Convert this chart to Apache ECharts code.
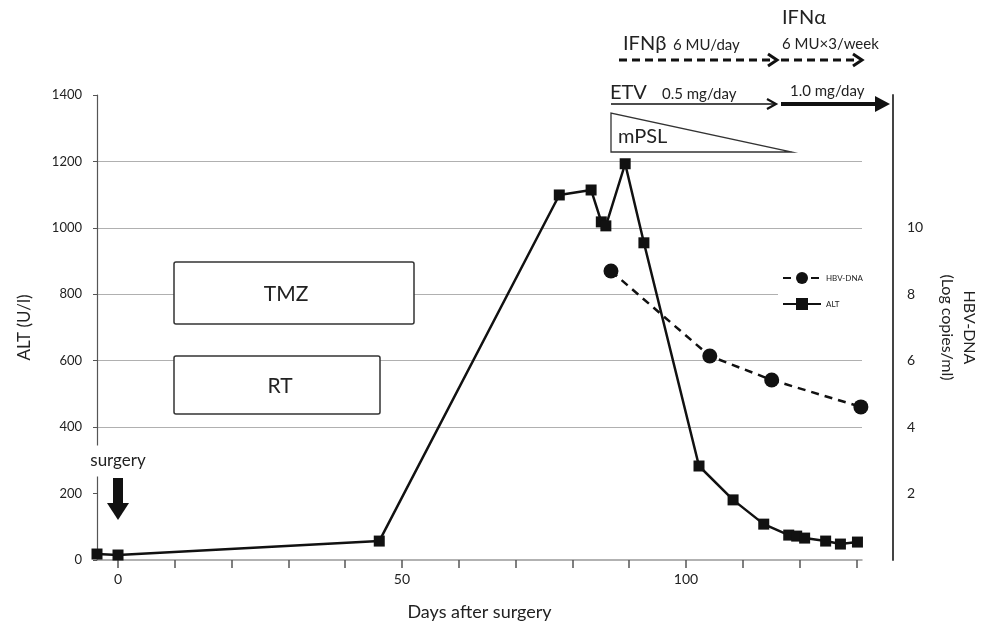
<!DOCTYPE html>
<html>
<head>
<meta charset="utf-8">
<script src="https://cdn.jsdelivr.net/npm/echarts@6/dist/echarts.min.js"></script>
<style>
html,body{margin:0;padding:0;background:#fff;}
#c{width:987px;height:624px;}
</style>
</head>
<body>
<div id="c"></div>
<script>
// ---- data ----
const altDays   = [-3.7, 0, 46.0, 77.7, 83.3, 85.1, 85.9, 89.3, 92.6, 102.3, 108.3, 113.7, 118.1, 119.5, 120.9, 124.6, 127.2, 130.2];
const altValues = [18, 15, 57, 1099, 1114, 1018, 1006, 1193, 955, 283, 181, 108, 75, 72, 66, 57, 48, 54];
const hbvDays   = [86.8, 104.2, 115.1, 130.8];
const hbvValues = [8.70, 6.14, 5.42, 4.61];
const xTicks    = [0, 10, 20, 30, 40, 50, 60, 70, 80, 90, 100, 110, 120, 130];
const xLabels   = [0, 50, 100];
const rightLabels = [2, 4, 6, 8, 10];

const FONT = 'Lato, "Open Sans", sans-serif';
const TXT = '#222';

const chart = echarts.init(document.getElementById('c'), null, {renderer: 'canvas'});

function arrowHeadOpen(x, y, w, h, lw) {
  return {type: 'polyline', z: 20, shape: {points: [[x - w, y - h], [x, y], [x - w, y + h]]},
          style: {stroke: '#111', lineWidth: lw, fill: null}};
}

const graphics = [
  // TMZ box
  {type: 'rect', z: 5, shape: {x: 174, y: 262, width: 240, height: 62, r: 2},
   style: {fill: '#fff', stroke: '#333', lineWidth: 1.5}},
  {type: 'text', z: 6, style: {x: 286, y: 294, text: 'TMZ', align: 'center', verticalAlign: 'middle',
   font: '21px ' + FONT, fill: TXT}},
  // RT box
  {type: 'rect', z: 5, shape: {x: 174, y: 356, width: 206, height: 58, r: 2},
   style: {fill: '#fff', stroke: '#333', lineWidth: 1.5}},
  {type: 'text', z: 6, style: {x: 280, y: 386, text: 'RT', align: 'center', verticalAlign: 'middle',
   font: '21px ' + FONT, fill: TXT}},
  // surgery label and arrow
  {type: 'text', z: 10, style: {x: 118, y: 461, text: 'surgery', align: 'center', verticalAlign: 'middle',
   font: '17px ' + FONT, fill: TXT, backgroundColor: '#fff', padding: [8, 2, 6, 2]}},
  {type: 'rect', z: 10, shape: {x: 113, y: 478, width: 10, height: 26}, style: {fill: '#111'}},
  {type: 'polygon', z: 10, shape: {points: [[107, 503], [129, 503], [118, 520]]}, style: {fill: '#111'}},
  // mPSL triangle
  {type: 'polygon', z: 5, shape: {points: [[611, 113], [611, 152], [792, 152]]},
   style: {fill: '#fff', stroke: '#333', lineWidth: 1.3}},
  {type: 'text', z: 6, style: {x: 618, y: 137, text: 'mPSL', align: 'left', verticalAlign: 'middle',
   font: '20px ' + FONT, fill: TXT}},
  // ETV
  {type: 'text', z: 6, style: {x: 610, y: 93, text: 'ETV', align: 'left', verticalAlign: 'middle',
   font: '20px ' + FONT, fill: TXT}},
  {type: 'text', z: 6, style: {x: 662, y: 94, text: '0.5 mg/day', align: 'left', verticalAlign: 'middle',
   font: '15px ' + FONT, fill: TXT}},
  {type: 'line', z: 20, shape: {x1: 611, y1: 104, x2: 775, y2: 104}, style: {stroke: '#111', lineWidth: 1.5}},
  arrowHeadOpen(776, 104, 9, 5, 2.2),
  {type: 'text', z: 6, style: {x: 790, y: 91, text: '1.0 mg/day', align: 'left', verticalAlign: 'middle',
   font: '15px ' + FONT, fill: TXT}},
  {type: 'line', z: 20, shape: {x1: 781, y1: 104, x2: 878, y2: 104}, style: {stroke: '#111', lineWidth: 4}},
  {type: 'polygon', z: 20, shape: {points: [[875, 96], [890, 104], [875, 112]]}, style: {fill: '#111'}},
  // IFN beta / alpha
  {type: 'text', z: 6, style: {x: 623, y: 44, text: 'IFNβ', align: 'left', verticalAlign: 'middle',
   font: '20px ' + FONT, fill: TXT}},
  {type: 'text', z: 6, style: {x: 673, y: 45, text: '6 MU/day', align: 'left', verticalAlign: 'middle',
   font: '15px ' + FONT, fill: TXT}},
  {type: 'line', z: 20, shape: {x1: 619, y1: 60, x2: 774, y2: 60},
   style: {stroke: '#111', lineWidth: 3, lineDash: [8, 5]}},
  arrowHeadOpen(777, 60, 9, 6, 3),
  {type: 'line', z: 20, shape: {x1: 781, y1: 60, x2: 858, y2: 60},
   style: {stroke: '#111', lineWidth: 3, lineDash: [8, 5]}},
  arrowHeadOpen(862, 60, 9, 6, 3),
  {type: 'text', z: 6, style: {x: 782, y: 18, text: 'IFNα', align: 'left', verticalAlign: 'middle',
   font: '20px ' + FONT, fill: TXT}},
  {type: 'text', z: 6, style: {x: 782, y: 44, text: '6 MU×3/week', align: 'left', verticalAlign: 'middle',
   font: '15px ' + FONT, fill: TXT}}
];

const gray = '#b0b0b0';

chart.setOption({
  animation: false,
  backgroundColor: '#fff',
  textStyle: {fontFamily: FONT},
  grid: {left: 97, right: 125, top: 95, bottom: 64, containLabel: false, outerBoundsMode: 'none'},
  legend: {
    data: ['HBV-DNA', 'ALT'], orient: 'vertical', left: 778, top: 269,
    itemGap: 14, itemWidth: 38, itemHeight: 15, backgroundColor: '#fff', padding: [3, 4],
    textStyle: {fontSize: 8, color: TXT, fontFamily: FONT}, z: 8
  },
  xAxis: {
    type: 'value', min: -3.7, max: 131,
    name: 'Days after surgery', nameLocation: 'middle', nameGap: 43,
    nameTextStyle: {fontSize: 18, color: TXT, fontFamily: FONT},
    axisLine: {show: true, onZero: false, lineStyle: {color: '#999', width: 1.5}},
    axisTick: {show: true, customValues: xTicks, length: 8, lineStyle: {color: '#555', width: 1.5}},
    axisLabel: {customValues: xLabels, fontSize: 14, color: TXT, margin: 12, fontFamily: FONT},
    splitLine: {show: false}
  },
  yAxis: [
    {
      type: 'value', min: 0, max: 1400, interval: 200, position: 'left',
      name: 'ALT (U/l)', nameLocation: 'middle', nameGap: 64, nameRotate: 90,
      nameTextStyle: {fontSize: 17, color: TXT, fontFamily: FONT},
      axisLine: {show: true, onZero: false, lineStyle: {color: '#555', width: 1.2}},
      axisTick: {show: true, length: 4, lineStyle: {color: '#555'}},
      axisLabel: {fontSize: 13, color: TXT, margin: 15, fontFamily: FONT, formatter: v => String(v)},
      splitLine: {show: true, showMinLine: false, showMaxLine: false,
        lineStyle: {color: ['transparent', gray, gray, gray, gray, gray, gray, 'transparent'], width: 1.2}}
    },
    {
      type: 'value', min: 0, max: 14, interval: 2, position: 'right', offset: 31,
      name: 'HBV-DNA\n(Log copies/ml)', nameLocation: 'middle', nameGap: 43, nameRotate: -90,
      nameTextStyle: {fontSize: 16, color: TXT, fontFamily: FONT, lineHeight: 22, align: 'center'},
      axisLine: {show: true, onZero: false, lineStyle: {color: '#444', width: 2}},
      axisTick: {show: false},
      axisLabel: {customValues: rightLabels, fontSize: 14, color: TXT, margin: 14, fontFamily: FONT},
      splitLine: {show: false}
    }
  ],
  series: [
    {
      name: 'HBV-DNA', type: 'line', yAxisIndex: 1, z: 3,
      data: hbvDays.map((d, i) => [d, hbvValues[i]]),
      symbol: 'circle', symbolSize: 15,
      lineStyle: {color: '#111', width: 2.5, type: [8, 6]},
      itemStyle: {color: '#111'}
    },
    {
      name: 'ALT', type: 'line', yAxisIndex: 0, z: 4,
      data: altDays.map((d, i) => [d, altValues[i]]),
      symbol: 'rect', symbolSize: 11,
      lineStyle: {color: '#111', width: 2.5},
      itemStyle: {color: '#111'}
    }
  ],
  graphic: graphics
});
</script>
</body>
</html>
